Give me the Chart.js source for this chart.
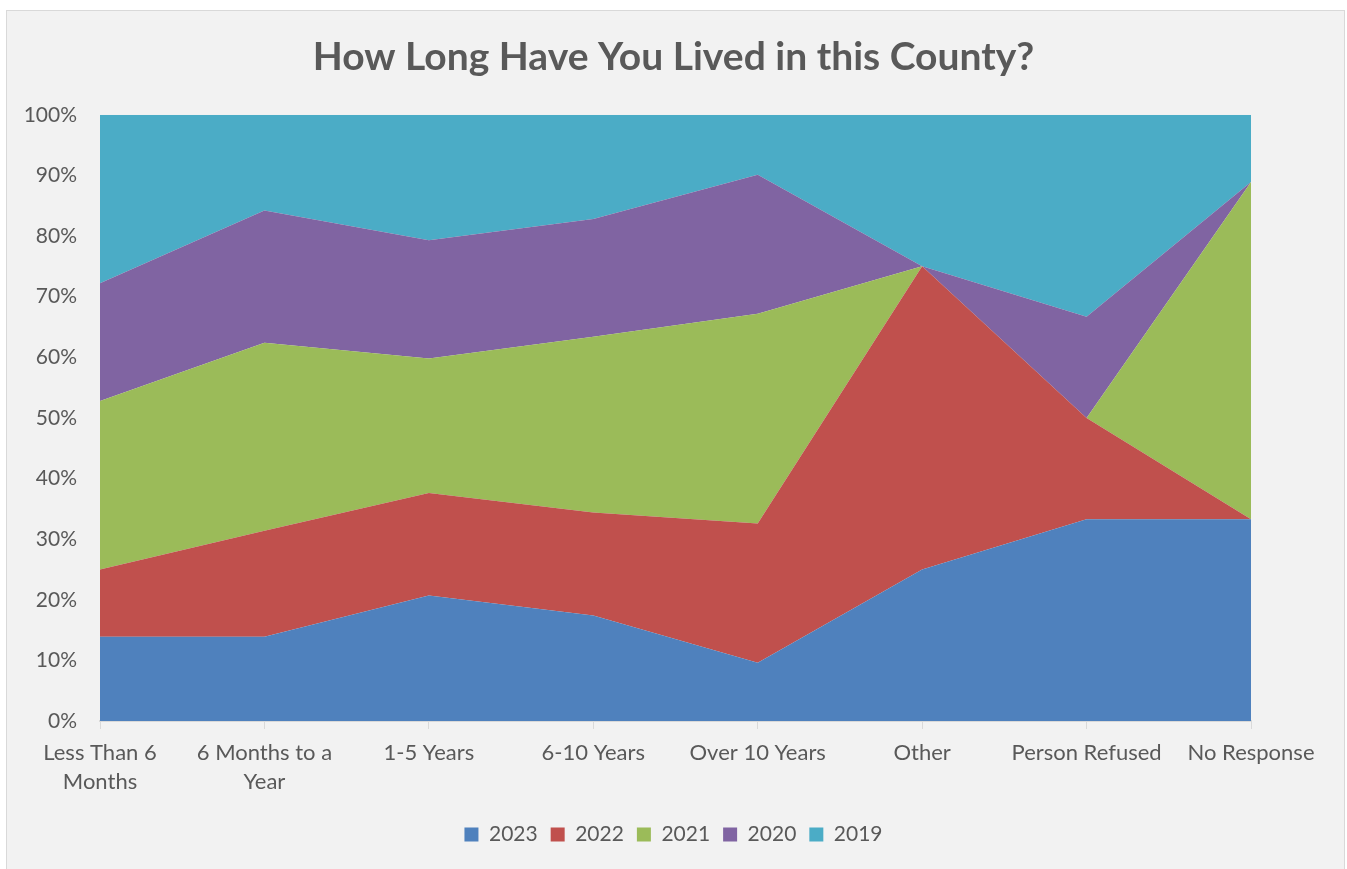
<!DOCTYPE html>
<html>
<head>
<meta charset="utf-8">
<script src="https://cdn.jsdelivr.net/npm/chart.js@4/dist/chart.umd.min.js"></script>
<style>
  html, body { margin: 0; padding: 0; background: #ffffff; }
  #frame {
    position: absolute; left: 6px; top: 10px; width: 1339px; height: 870px;
    background: #f2f2f2; border: 1px solid #d9d9d9; box-sizing: border-box;
  }
  #wrap { position: absolute; left: 0; top: 0; width: 1347px; height: 869px; }
</style>
</head>
<body>
<div id="frame"></div>
<div id="wrap"><canvas id="chart" width="1347" height="869"></canvas></div>
<script>
  "use strict";

  // Answer categories (multi-line labels are split into arrays)
  const categories = [
    ["Less Than 6", "Months"],
    ["6 Months to a", "Year"],
    "1-5 Years",
    "6-10 Years",
    "Over 10 Years",
    "Other",
    "Person Refused",
    "No Response",
  ];

  // Share of respondents per year (percent of each category)
  const years = ["2023", "2022", "2021", "2020", "2019"];
  const share2023 = [13.9, 13.9, 20.7, 17.4, 9.6, 25.0, 33.3, 33.3];
  const share2022 = [11.1, 17.5, 16.9, 17.0, 23.0, 50.0, 16.7, 0];
  const share2021 = [27.8, 31.0, 22.2, 29.0, 34.6, 0, 0, 55.6];
  const share2020 = [19.4, 21.8, 19.5, 19.4, 22.9, 0, 16.7, 0];
  const share2019 = [27.8, 15.8, 20.7, 17.2, 9.9, 25.0, 33.3, 11.1];

  const yTicks = [0, 10, 20, 30, 40, 50, 60, 70, 80, 90, 100];

  const seriesData = [share2023, share2022, share2021, share2020, share2019];
  const colors = ["#4f81bd", "#c0504d", "#9bbb59", "#8064a2", "#4bacc6"];

  const FONT = "Lato, 'Open Sans', sans-serif";
  const TEXT = "#595959";

  const datasets = years.map((y, i) => ({
    label: y,
    data: seriesData[i],
    backgroundColor: colors[i],
    borderColor: colors[i],
    borderWidth: 0,
    pointRadius: 0,
    tension: 0,
    fill: i === 0 ? "origin" : "-1",
  }));

  const ctx = document.getElementById("chart").getContext("2d");
  new Chart(ctx, {
    type: "line",
    data: { labels: categories, datasets: datasets },
    options: {
      responsive: false,
      animation: false,
      layout: { padding: { left: 0, right: 0, top: 0, bottom: 14 } },
      plugins: {
        title: {
          display: true,
          text: "How Long Have You Lived in this County?",
          color: TEXT,
          font: { family: FONT, size: 39, weight: "bold" },
          padding: { top: 34, bottom: 34 },
        },
        legend: {
          position: "bottom",
          labels: {
            color: TEXT,
            font: { family: FONT, size: 21 },
            boxWidth: 14,
            boxHeight: 14,
            padding: 13,
          },
        },
        tooltip: { enabled: false },
      },
      scales: {
        x: {
          offset: false,
          grid: {
            drawOnChartArea: false,
            drawTicks: true,
            tickLength: 8,
            color: "#d9d9d9",
          },
          border: { display: true, color: "#d9d9d9", width: 2 },
          ticks: {
            color: TEXT,
            font: { family: FONT, size: 22, lineHeight: 1.32 },
            maxRotation: 0,
            autoSkip: false,
            padding: 9,
          },
          afterFit: (scale) => {
            scale.height = 90;
          },
        },
        y: {
          stacked: true,
          min: 0,
          max: 100,
          grid: { display: false },
          border: { display: false },
          afterBuildTicks: (scale) => {
            scale.ticks = yTicks.map((v) => ({ value: v }));
          },
          ticks: {
            color: TEXT,
            font: { family: FONT, size: 21 },
            padding: 15,
            callback: (v) => v + "%",
          },
          afterFit: (scale) => {
            scale.width = 100;
          },
        },
        // empty right-hand axis, only reserves the margin right of the plot
        spacer: {
          type: "linear",
          position: "right",
          display: true,
          grid: { display: false },
          border: { display: false },
          ticks: { display: false },
          afterFit: (scale) => {
            scale.width = 96;
          },
        },
      },
    },
  });
</script>
</body>
</html>
